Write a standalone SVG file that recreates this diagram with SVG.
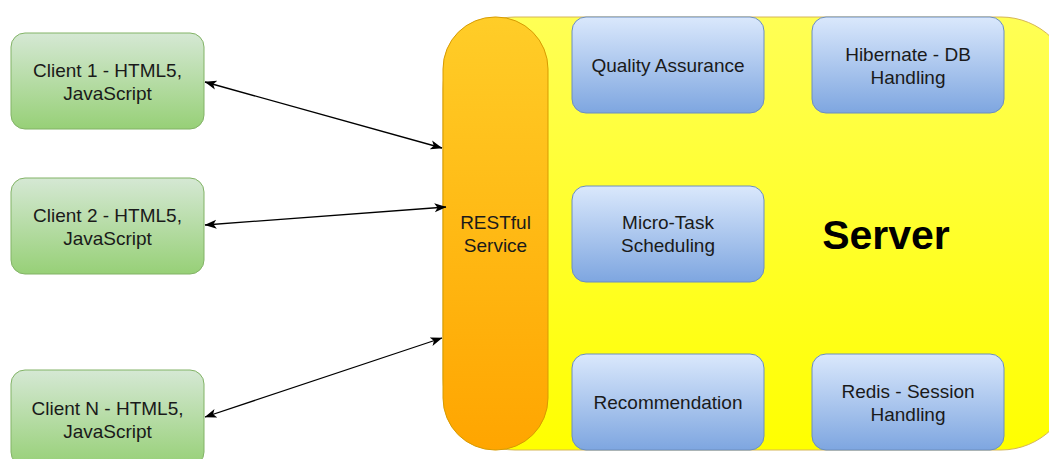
<svg xmlns="http://www.w3.org/2000/svg" width="1049" height="459" viewBox="0 0 1049 459">
<defs>
<linearGradient id="gGreen" x1="0" y1="0" x2="0" y2="1"><stop offset="0" stop-color="#d5e8d4"/><stop offset="1" stop-color="#97d077"/></linearGradient>
<linearGradient id="gBlue" x1="0" y1="0" x2="0" y2="1"><stop offset="0" stop-color="#dae8fc"/><stop offset="1" stop-color="#7ea6e0"/></linearGradient>
<linearGradient id="gOrange" x1="0" y1="0" x2="0" y2="1"><stop offset="0" stop-color="#ffcd28"/><stop offset="1" stop-color="#ffa500"/></linearGradient>
<linearGradient id="gYellow" x1="0" y1="0" x2="0" y2="1"><stop offset="0" stop-color="#ffff55"/><stop offset="1" stop-color="#ffff00"/></linearGradient>
<marker id="arr" viewBox="0 0 12 10" refX="11.5" refY="5" markerWidth="12" markerHeight="10" markerUnits="userSpaceOnUse" orient="auto-start-reverse">
<path d="M0,0.5 L12,5 L0,9.5 L3,5 Z" fill="#000"/>
</marker>
<style>
.client{fill:url(#gGreen);stroke:#82b366;stroke-width:1}
.comp{fill:url(#gBlue);stroke:#6c8ebf;stroke-width:1}
text{font-family:"Liberation Sans",Arial,sans-serif;font-size:19px;fill:#1a1a1a;text-anchor:middle}
.big{font-size:41px;font-weight:bold;fill:#000}
.conn{stroke:#000;stroke-width:1.3;fill:none;marker-start:url(#arr);marker-end:url(#arr)}
</style>
</defs>
<g id="server">
<rect x="443" y="17" width="630" height="433" rx="72" ry="72" fill="url(#gYellow)" stroke="#d6b656" stroke-width="1"/>
<text class="big" x="886" y="249">Server</text>
</g>
<g id="restful">
<rect x="443" y="17" width="105" height="433" rx="52" ry="52" fill="url(#gOrange)" stroke="#d79b00" stroke-width="1"/>
<text x="495.5" y="229">RESTful</text>
<text x="495.5" y="252">Service</text>
</g>
<g id="qa">
<rect class="comp" x="572" y="17" width="192" height="96" rx="14"/>
<text x="668" y="72">Quality Assurance</text>
</g>
<g id="hibernate">
<rect class="comp" x="812" y="17" width="192" height="96" rx="14"/>
<text x="908" y="61">Hibernate - DB</text>
<text x="908" y="84">Handling</text>
</g>
<g id="microtask">
<rect class="comp" x="572" y="186" width="192" height="96" rx="14"/>
<text x="668" y="229">Micro-Task</text>
<text x="668" y="252">Scheduling</text>
</g>
<g id="recommendation">
<rect class="comp" x="572" y="354" width="192" height="96" rx="14"/>
<text x="668" y="409">Recommendation</text>
</g>
<g id="redis">
<rect class="comp" x="812" y="354" width="192" height="96" rx="14"/>
<text x="908" y="398">Redis - Session</text>
<text x="908" y="421">Handling</text>
</g>
<g id="client1">
<rect class="client" x="11" y="33" width="193" height="96" rx="14"/>
<text x="107.5" y="77">Client 1 - HTML5,</text>
<text x="107.5" y="100">JavaScript</text>
</g>
<g id="client2">
<rect class="client" x="11" y="178" width="193" height="96" rx="14"/>
<text x="107.5" y="222">Client 2 - HTML5,</text>
<text x="107.5" y="245">JavaScript</text>
</g>
<g id="clientN">
<rect class="client" x="11" y="370" width="193" height="96" rx="14"/>
<text x="107.5" y="415">Client N - HTML5,</text>
<text x="107.5" y="438">JavaScript</text>
</g>
<g id="connectors">
<line class="conn" x1="205" y1="82" x2="442" y2="148"/>
<line class="conn" x1="205" y1="225" x2="446" y2="207"/>
<line class="conn" x1="205" y1="417" x2="442" y2="338"/>
</g>
</svg>
